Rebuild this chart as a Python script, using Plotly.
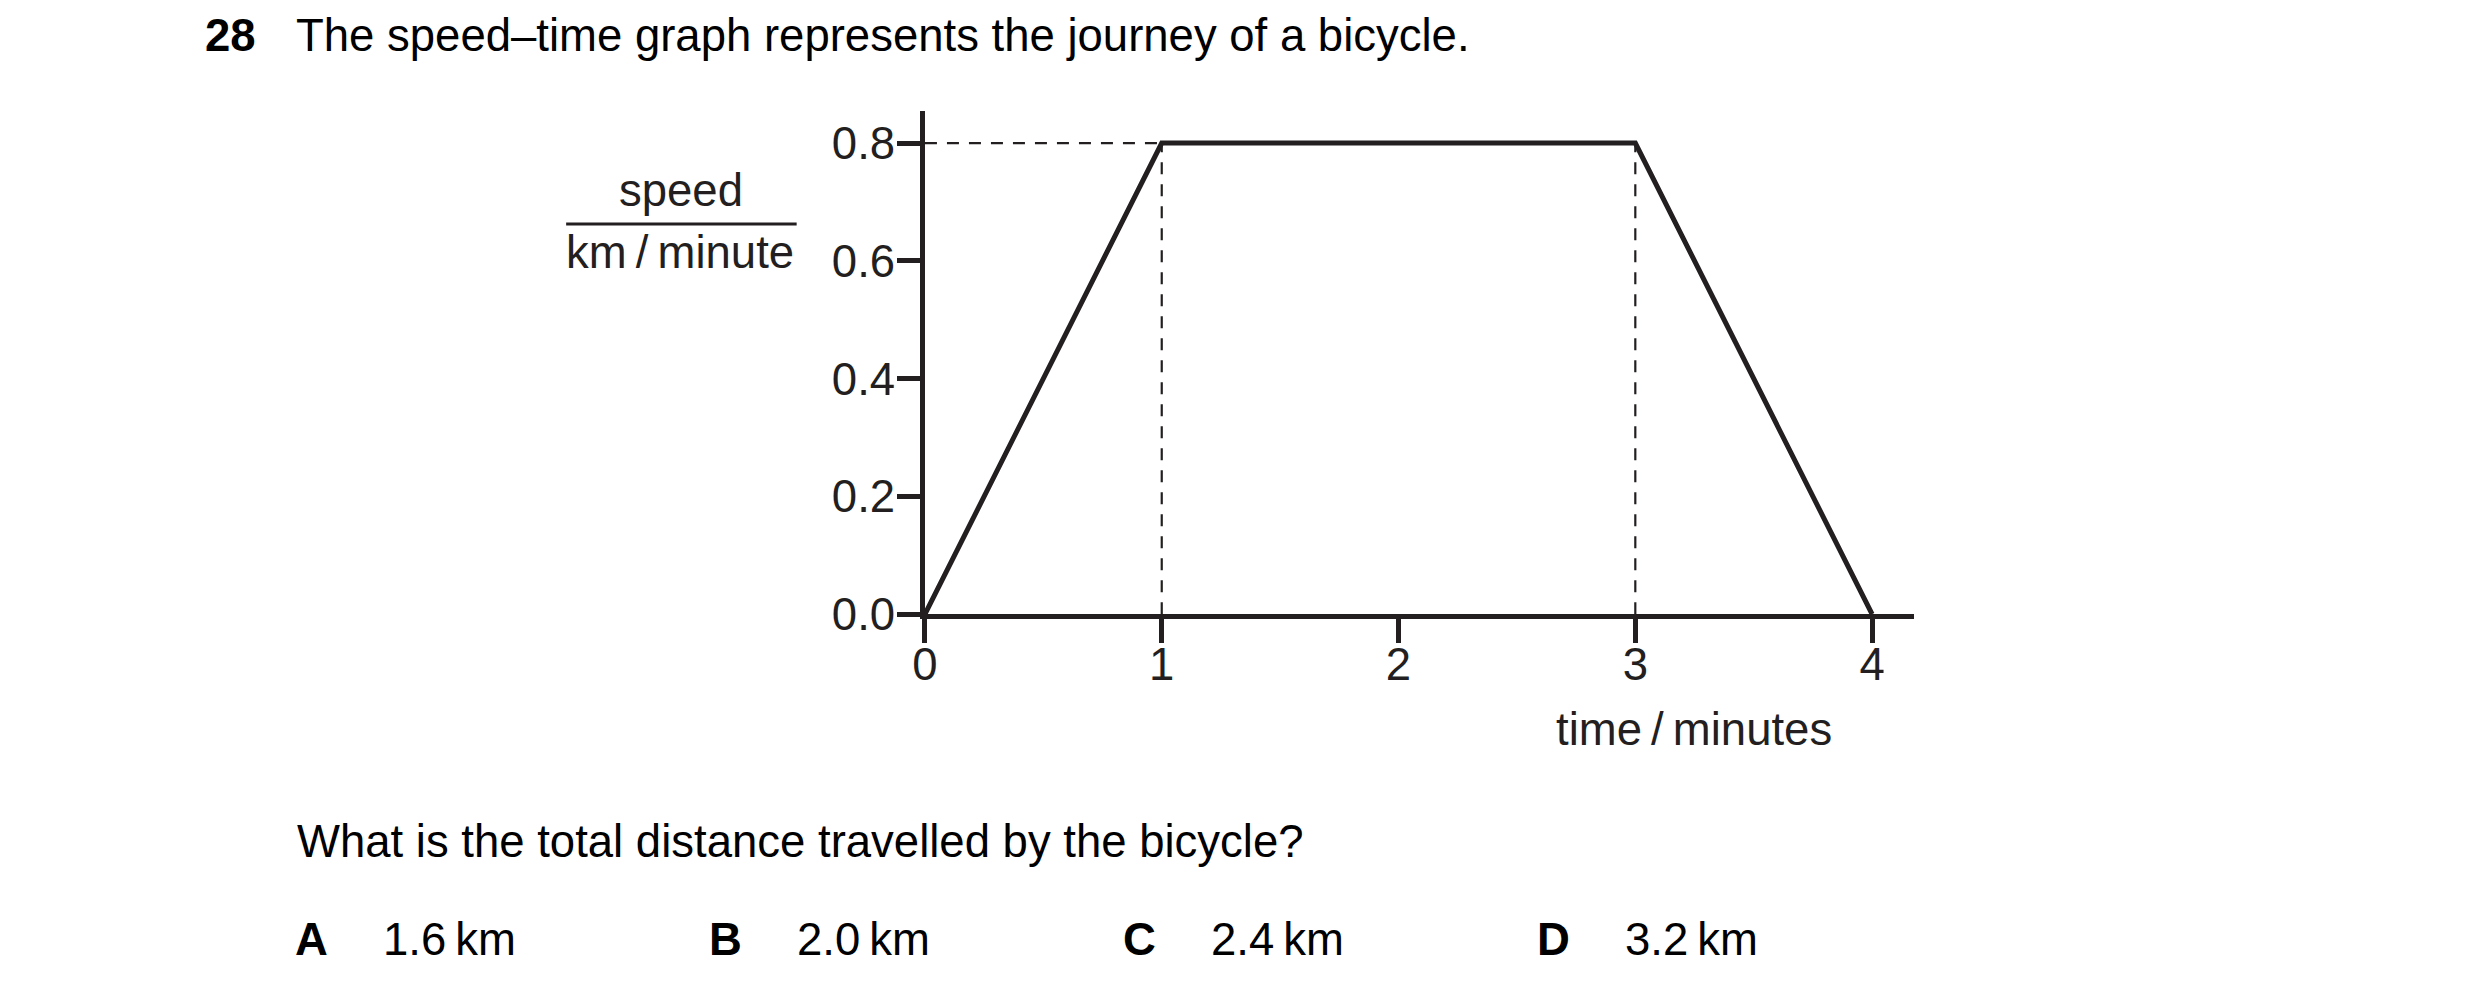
import plotly.graph_objects as go

# speed-time data for the bicycle
time_min = [0, 1, 3, 4]
speed = [0, 0.8, 0.8, 0]

x_ticks = [0, 1, 2, 3, 4]
y_ticks = [0.0, 0.2, 0.4, 0.6, 0.8]
y_tick_text = ["0.0", "0.2", "0.4", "0.6", "0.8"]

question_no = "28"
question = "The speed\u2013time graph represents the journey of a bicycle."
ask = "What is the total distance travelled by the bicycle?"
letters = ["A", "B", "C", "D"]
answers = ["1.6\u2009km", "2.0\u2009km", "2.4\u2009km", "3.2\u2009km"]

W, H = 2480, 997
INK = "#231f20"
FONT = "Liberation Sans, Arial, sans-serif"
FS = 45.5

# the page ends up a little shifted/squeezed in the shot, undo that here
OX, SX = 23.1, 0.9925
OY, SY = 8.7, 0.9757


def px(x):
    return ((x - OX) / SX) / W


def py(y):
    return 1 - ((y - OY) / SY) / H


fig = go.Figure()

# dashed guides from the corners of the graph
peak = max(speed)
corners = [t for t, s in zip(time_min, speed) if s == peak]
guide = dict(color=INK, width=2.2, dash="12px,10px")
fig.add_trace(go.Scatter(x=[time_min[0], corners[0]], y=[peak, peak],
                         mode="lines", line=guide, hoverinfo="skip"))
for c in corners:
    fig.add_trace(go.Scatter(x=[c, c], y=[0, peak], mode="lines",
                             line=guide, hoverinfo="skip"))

fig.add_trace(go.Scatter(x=time_min, y=speed, mode="lines",
                         line=dict(color=INK, width=5), cliponaxis=False))

# 0 sits at (925, 616) px, 1 minute = 236.25 px, 0.2 km/min = 118 px
x0, x_end = 925, 1912
y0, y_top = 616, 112
xr = (x_end - x0) / 236.25
yr = (y0 - y_top) / 590.0

axis_style = dict(ticks="outside", tickcolor=INK, tickwidth=4.5,
                  showline=True, linewidth=4.5, linecolor=INK,
                  showgrid=False, zeroline=False,
                  tickfont=dict(family=FONT, size=FS, color=INK))
fig.update_xaxes(domain=[px(x0), px(x_end)], range=[0, xr],
                 tickvals=x_ticks, ticklen=24, ticklabelstandoff=-18,
                 **axis_style)
fig.update_yaxes(domain=[py(y0), py(y_top)], range=[0, yr],
                 tickvals=y_ticks, ticktext=y_tick_text, ticklen=23,
                 ticklabelstandoff=-7, **axis_style)

ann = []


def text(x, y, s, anchor="left", color="#000"):
    ann.append(dict(x=px(x), y=py(y), xref="paper", yref="paper", text=s,
                    showarrow=False, xanchor=anchor, yanchor="middle",
                    borderpad=0,
                    font=dict(family=FONT, size=FS, color=color)))


# title kept a few px lower so its text box stays inside the page
text(206, 36, "<b>" + question_no + "</b>")
text(296, 36, question)
text(682, 192, "speed", "center", INK)
text(681, 254, "km\u2009/\u2009minute", "center", INK)
text(1692, 732, "time\u2009/\u2009minutes", "center", INK)
text(297, 844, ask)
for i, (l, a) in enumerate(zip(letters, answers)):
    lx = 295 + i * 413.3
    text(lx, 942, "<b>" + l + "</b>")
    text(lx + 88, 942, a)

fig.add_shape(type="line", xref="paper", yref="paper",
              x0=px(567), x1=px(797), y0=py(225), y1=py(225),
              line=dict(color=INK, width=3))

fig.update_layout(
    width=W, height=H, margin=dict(l=0, r=0, t=0, b=0),
    paper_bgcolor="white", plot_bgcolor="white",
    annotations=ann, showlegend=False)

fig.write_html("out.html")
